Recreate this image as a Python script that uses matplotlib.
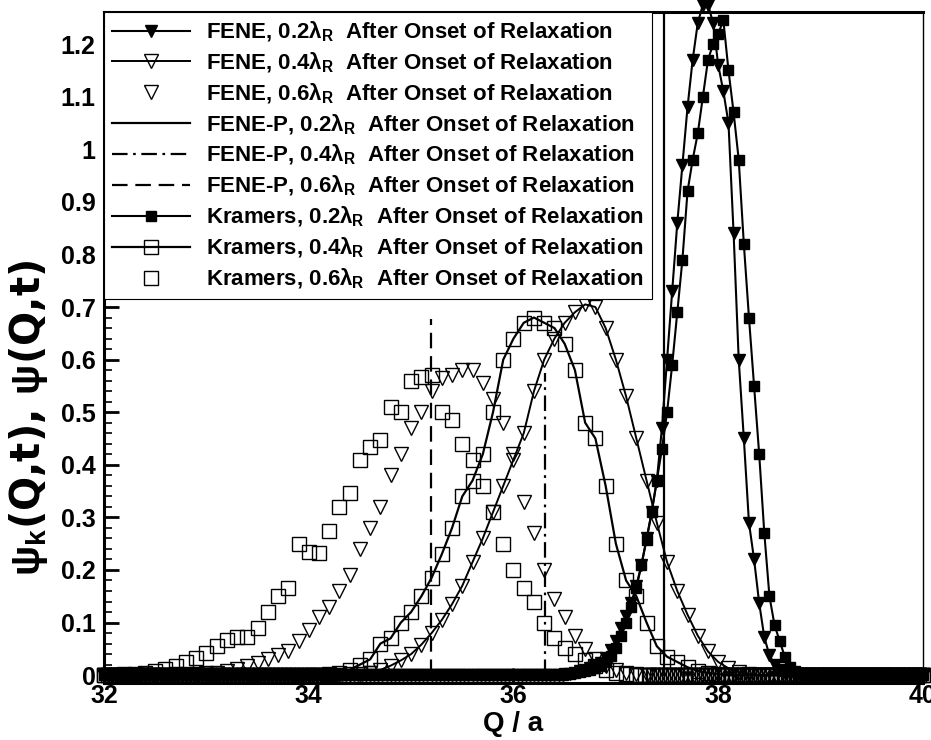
import numpy as np
import matplotlib.pyplot as plt
from matplotlib.ticker import MultipleLocator

plt.rcParams['font.family'] = ['Liberation Sans', 'DejaVu Sans']
plt.rcParams['font.weight'] = 'bold'
plt.rcParams['mathtext.fontset'] = 'custom'
plt.rcParams['mathtext.rm'] = 'Liberation Sans:bold'
plt.rcParams['mathtext.bf'] = 'Liberation Sans:bold'
plt.rcParams['mathtext.it'] = 'Liberation Sans:bold'

# Q sample grid of the simulation (all distributions are ~0 away from their peaks)
q_base = np.round(np.arange(32.0, 40.0001, 0.04), 2).tolist()

# Q grid (step 0.1) for the broad distributions
q = [32.0, 32.1, 32.2, 32.3, 32.4, 32.5, 32.6, 32.7, 32.8, 32.9,
     33.0, 33.1, 33.2, 33.3, 33.4, 33.5, 33.6, 33.7, 33.8, 33.9,
     34.0, 34.1, 34.2, 34.3, 34.4, 34.5, 34.6, 34.7, 34.8, 34.9,
     35.0, 35.1, 35.2, 35.3, 35.4, 35.5, 35.6, 35.7, 35.8, 35.9,
     36.0, 36.1, 36.2, 36.3, 36.4, 36.5, 36.6, 36.7, 36.8, 36.9,
     37.0, 37.1, 37.2, 37.3, 37.4, 37.5, 37.6, 37.7, 37.8, 37.9,
     38.0, 38.1, 38.2, 38.3, 38.4, 38.5, 38.6, 38.7, 38.8, 38.9,
     39.0, 39.1, 39.2, 39.3, 39.4, 39.5, 39.6, 39.7, 39.8, 39.9,
     40.0]

fene_04 = [0, 0, 0, 0, 0, 0, 0, 0, 0, 0,
           0, 0, 0, 0, 0, 0, 0, 0, 0, 0,
           0, 0, 0, 0.001, 0.002, 0.003, 0.005, 0.01, 0.018, 0.028,
           0.04, 0.058, 0.08, 0.105, 0.135, 0.17, 0.215, 0.26, 0.31, 0.36,
           0.41, 0.46, 0.54, 0.6, 0.64, 0.67, 0.69, 0.705, 0.7, 0.66,
           0.6, 0.53, 0.45, 0.37, 0.29, 0.215, 0.16, 0.115, 0.075, 0.045,
           0.025, 0.013, 0.006, 0.002, 0, 0, 0, 0, 0, 0,
           0, 0, 0, 0, 0, 0, 0, 0, 0, 0,
           0]

fene_06 = [0, 0, 0, 0, 0, 0.001, 0.001, 0.002, 0.002, 0.003,
           0.004, 0.005, 0.008, 0.012, 0.017, 0.024, 0.03, 0.038, 0.045, 0.065,
           0.085, 0.11, 0.13, 0.16, 0.19, 0.24, 0.28, 0.32, 0.38, 0.42,
           0.47, 0.5, 0.54, 0.565, 0.57, 0.58, 0.58, 0.555, 0.525, 0.48,
           0.42, 0.33, 0.27, 0.2, 0.145, 0.11, 0.075, 0.05, 0.03, 0.018,
           0.01, 0.005, 0.002, 0, 0, 0, 0, 0, 0, 0,
           0, 0, 0, 0, 0, 0, 0, 0, 0, 0,
           0, 0, 0, 0, 0, 0, 0, 0, 0, 0,
           0]

kram_04 = [0, 0, 0, 0, 0, 0, 0, 0, 0, 0,
           0, 0, 0, 0, 0, 0, 0, 0, 0, 0,
           0, 0, 0.002, 0.005, 0.01, 0.02, 0.03, 0.06, 0.07, 0.1,
           0.12, 0.15, 0.185, 0.23, 0.28, 0.34, 0.37, 0.42, 0.5, 0.6,
           0.64, 0.67, 0.68, 0.67, 0.66, 0.63, 0.58, 0.48, 0.45, 0.36,
           0.25, 0.18, 0.15, 0.1, 0.055, 0.035, 0.025, 0.015, 0.008, 0.004,
           0.002, 0, 0, 0, 0, 0, 0, 0, 0, 0,
           0, 0, 0, 0, 0, 0, 0, 0, 0, 0,
           0]

kram_06 = [0.001, 0.001, 0.002, 0.002, 0.004, 0.008, 0.012, 0.018, 0.025, 0.032,
           0.042, 0.055, 0.067, 0.072, 0.072, 0.09, 0.12, 0.15, 0.165, 0.25,
           0.235, 0.232, 0.275, 0.32, 0.346, 0.41, 0.434, 0.447, 0.51, 0.5,
           0.56, 0.567, 0.57, 0.5, 0.485, 0.44, 0.41, 0.36, 0.31, 0.25,
           0.2, 0.165, 0.14, 0.1, 0.07, 0.052, 0.04, 0.028, 0.018, 0.01,
           0.005, 0.002, 0, 0, 0, 0, 0, 0, 0, 0,
           0, 0, 0, 0, 0, 0, 0, 0, 0, 0,
           0, 0, 0, 0, 0, 0, 0, 0, 0, 0,
           0]

# finer Q grid (step 0.05) for the sharp 0.2 lambda_R peaks
q_fine = [36.50, 36.55, 36.60, 36.65, 36.70, 36.75, 36.80, 36.85, 36.90, 36.95,
          37.00, 37.05, 37.10, 37.15, 37.20, 37.25, 37.30, 37.35, 37.40, 37.45,
          37.50, 37.55, 37.60, 37.65, 37.70, 37.75, 37.80, 37.85, 37.90, 37.95,
          38.00, 38.05, 38.10, 38.15, 38.20, 38.25, 38.30, 38.35, 38.40, 38.45,
          38.50, 38.55, 38.60, 38.65, 38.70, 38.75, 38.80, 38.85, 38.90, 38.95,
          39.00]

fene_02 = [0.002, 0.003, 0.005, 0.007, 0.01, 0.013, 0.017, 0.024, 0.033, 0.047,
           0.065, 0.09, 0.112, 0.138, 0.17, 0.21, 0.26, 0.31, 0.37, 0.47,
           0.6, 0.73, 0.86, 0.97, 1.08, 1.17, 1.24, 1.275, 1.275, 1.24,
           1.16, 1.11, 1.05, 0.84, 0.6, 0.45, 0.29, 0.22, 0.137, 0.072,
           0.038, 0.02, 0.01, 0.005, 0.002, 0.001, 0, 0, 0, 0,
           0]

kram_02 = [0.002, 0.003, 0.004, 0.006, 0.008, 0.01, 0.013, 0.018, 0.025, 0.037,
           0.052, 0.075, 0.1, 0.13, 0.165, 0.21, 0.257, 0.31, 0.37, 0.43,
           0.5, 0.59, 0.69, 0.79, 0.92, 0.98, 1.03, 1.1, 1.17, 1.2,
           1.22, 1.245, 1.15, 1.07, 0.98, 0.82, 0.68, 0.55, 0.42, 0.27,
           0.15, 0.095, 0.065, 0.035, 0.016, 0.007, 0.003, 0.001, 0, 0,
           0]

# FENE-P: delta distributions (position, drawn height)
fenep_q = [37.47, 36.31, 35.19]
fenep_h = [1.4, 0.575, 0.678]

labels = [
    r'FENE, 0.2$\lambda_\mathrm{R}$  After Onset of Relaxation',
    r'FENE, 0.4$\lambda_\mathrm{R}$  After Onset of Relaxation',
    r'FENE, 0.6$\lambda_\mathrm{R}$  After Onset of Relaxation',
    r'FENE-P, 0.2$\lambda_\mathrm{R}$  After Onset of Relaxation',
    r'FENE-P, 0.4$\lambda_\mathrm{R}$  After Onset of Relaxation',
    r'FENE-P, 0.6$\lambda_\mathrm{R}$  After Onset of Relaxation',
    r'Kramers, 0.2$\lambda_\mathrm{R}$  After Onset of Relaxation',
    r'Kramers, 0.4$\lambda_\mathrm{R}$  After Onset of Relaxation',
    r'Kramers, 0.6$\lambda_\mathrm{R}$  After Onset of Relaxation',
]


def on_base(qs, vals):
    # keep the read-off peak, use the dense sample grid where psi is zero
    nz = [i for i, v in enumerate(vals) if v > 0]
    i0, i1 = max(nz[0] - 1, 0), min(nz[-1] + 1, len(qs) - 1)
    left = [b for b in q_base if b < qs[i0]]
    right = [b for b in q_base if b > qs[i1]]
    xs = left + qs[i0:i1 + 1] + right
    ys = [0.0] * len(left) + vals[i0:i1 + 1] + [0.0] * len(right)
    return xs, ys


fig = plt.figure(figsize=(9.31, 7.4), dpi=100)
ax = fig.add_axes([0.1117, 0.077, 0.8797, 0.9068])

k = dict(color='black', clip_on=False)
op = dict(mfc='none', mec='black', mew=1.0)

x, y = on_base(q_fine, fene_02)
h1, = ax.plot(x, y, '-', lw=1.5, marker='v', ms=8, mfc='black', mec='black', **k)
x, y = on_base(q, fene_04)
h2, = ax.plot(x, y, '-', lw=1.4, marker='v', ms=9.5, **op, **k)
x, y = on_base(q, fene_06)
h3, = ax.plot(x, y, linestyle='none', marker='v', ms=9.5, **op, **k)

styles = ['-', (0, (7, 2.5, 1.2, 2.5)), (0, (7, 3.5))]
hp = []
for qq, hh, ls in zip(fenep_q, fenep_h, styles):
    line, = ax.plot([qq, qq], [0, hh], color='black', lw=1.6, linestyle=ls)
    hp.append(line)

x, y = on_base(q_fine, kram_02)
h7, = ax.plot(x, y, '-', lw=1.5, marker='s', ms=6.5, mfc='black', mec='black', **k)
x, y = on_base(q, kram_04)
h8, = ax.plot(x, y, '-', lw=1.6, marker='s', ms=9.5, **op, **k)
x, y = on_base(q, kram_06)
h9, = ax.plot(x, y, linestyle='none', marker='s', ms=9.5, **op, **k)

ax.set_xlim(32, 40)
ax.set_ylim(-0.015, 1.261)
ax.xaxis.set_major_locator(MultipleLocator(2))
ax.yaxis.set_minor_locator(MultipleLocator(0.02))
ax.set_yticks([0, 0.1, 0.2, 0.3, 0.4, 0.5, 0.6, 0.7, 0.8, 0.9, 1.0, 1.1, 1.2])
ax.set_yticklabels(['0', '0.1', '0.2', '0.3', '0.4', '0.5', '0.6', '0.7', '0.8', '0.9', '1', '1.1', '1.2'])
ax.tick_params(axis='both', which='major', direction='in', length=11, width=2, labelsize=18)
ax.tick_params(axis='both', which='minor', direction='in', length=6, width=1.2)
ax.tick_params(axis='x', pad=1)
ax.tick_params(axis='y', pad=6)
for s in ax.spines.values():
    s.set_linewidth(2.2)
ax.spines['right'].set_linewidth(1)

ax.set_xlabel('Q / a', fontsize=20, fontweight='bold', labelpad=2)
ax.set_ylabel(r'$\psi_\mathrm{k}$(Q,t), $\psi$(Q,t)', fontsize=29, fontweight='bold',
              family='DejaVu Sans')
ax.yaxis.set_label_coords(-0.066, 0.395)

leg = ax.legend([h1, h2, h3] + hp + [h7, h8, h9], labels, loc='upper left',
                bbox_to_anchor=(0, 1), borderaxespad=0, fontsize=16, numpoints=1,
                handlelength=3.5, handletextpad=0.75, labelspacing=0.3,
                borderpad=0.35, fancybox=False, framealpha=1, edgecolor='black')
leg.get_frame().set_linewidth(0.8)
leg.set_zorder(5)

fig.savefig('out.png', dpi=100)
